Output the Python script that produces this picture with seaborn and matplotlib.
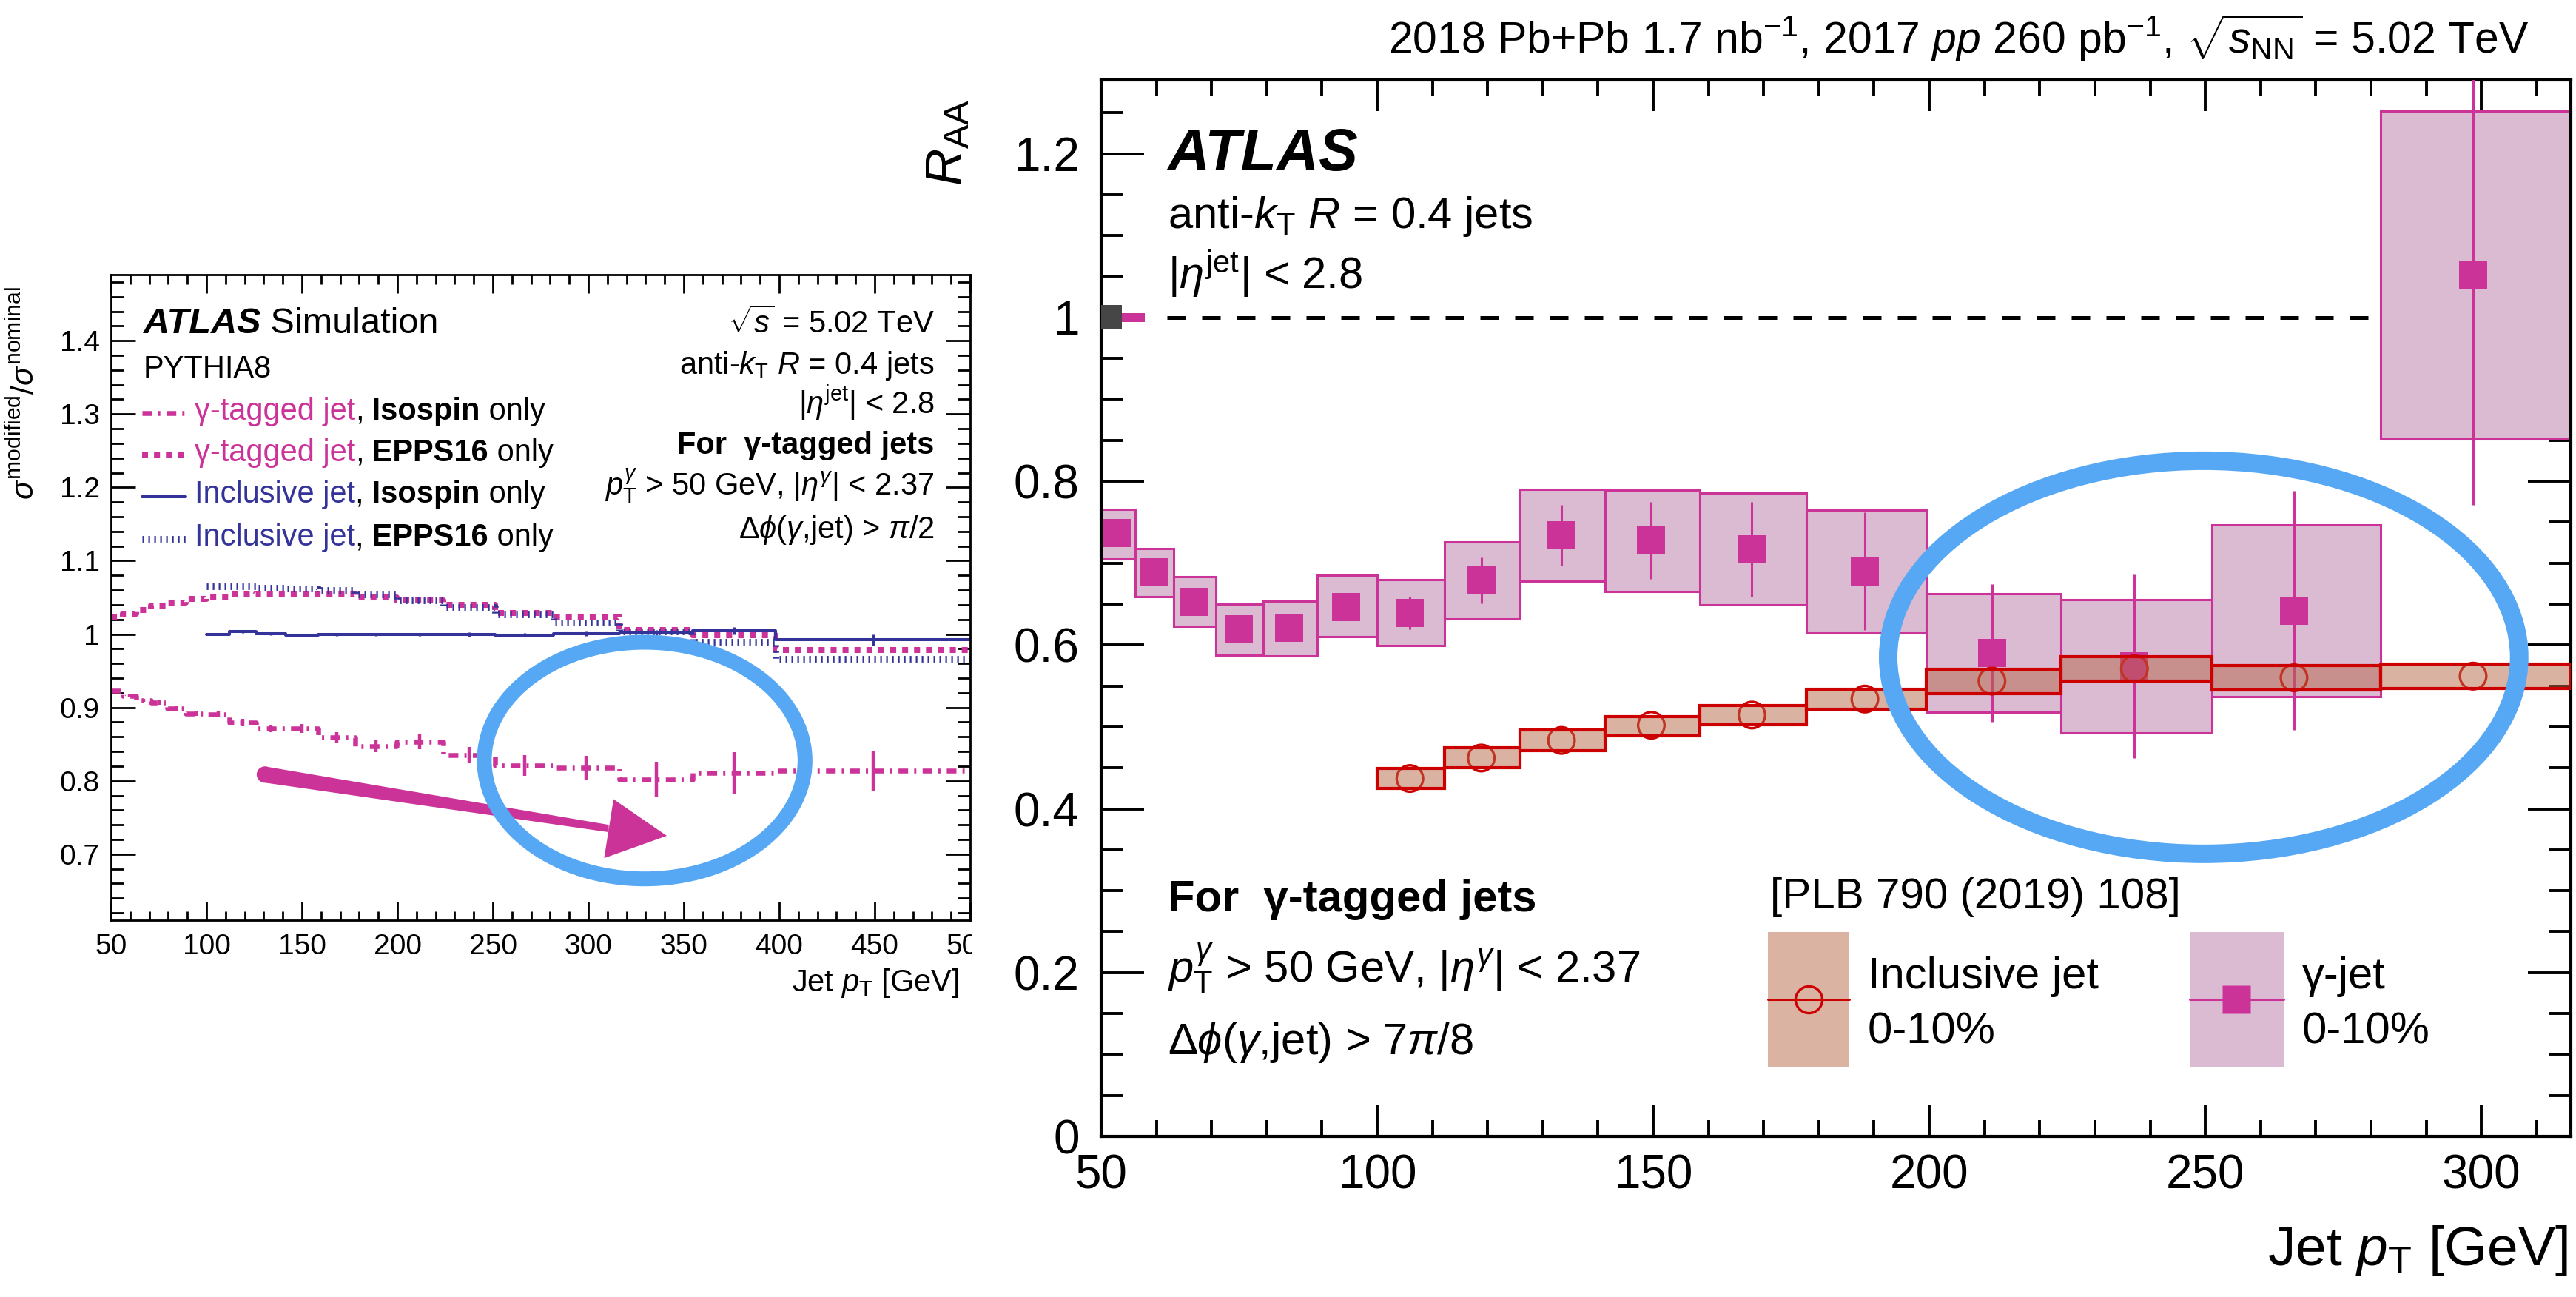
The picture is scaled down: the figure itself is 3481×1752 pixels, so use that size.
import numpy as np
import pandas as pd
import matplotlib
matplotlib.use("Agg")
import matplotlib.pyplot as plt
import seaborn as sns
from matplotlib.patches import Ellipse, Polygon, Rectangle
from matplotlib.ticker import MultipleLocator, FuncFormatter
from matplotlib.transforms import Bbox, TransformedBbox

# ---------------- left panel: PYTHIA8 modified / nominal cross-section ----------------
sim_edges = [50.0, 56.2, 63.1, 70.8, 79.4, 89.1, 100.0, 112.2, 125.9, 141.3,
             158.5, 177.8, 199.5, 223.9, 251.2, 281.8, 316.2, 354.8, 398.1, 500.0]
gam_isospin = [0.923, 0.916, 0.910, 0.907, 0.899, 0.892, 0.891, 0.879, 0.871, 0.871,
               0.859, 0.847, 0.853, 0.835, 0.821, 0.818, 0.802, 0.811, 0.814]
gam_isospin_err = [0.002, 0.002, 0.002, 0.003, 0.003, 0.003, 0.004, 0.005, 0.005, 0.006,
                   0.007, 0.008, 0.010, 0.011, 0.014, 0.016, 0.024, 0.028, 0.027]
gam_epps16 = [1.024, 1.028, 1.033, 1.039, 1.043, 1.048, 1.051, 1.054, 1.055, 1.055,
              1.055, 1.050, 1.046, 1.040, 1.029, 1.024, 1.006, 0.999, 0.978]

inc_sim_edges = [100.0, 112.2, 125.9, 141.3, 158.5, 177.8, 199.5, 223.9, 251.2,
                 281.8, 316.2, 354.8, 398.1, 500.0]
inc_isospin = [1.000, 1.004, 1.001, 0.999, 1.000, 1.000, 1.000, 1.000, 0.999,
               1.001, 1.002, 1.005, 0.992]
inc_isospin_err = [0.001, 0.002, 0.002, 0.002, 0.002, 0.002, 0.002, 0.003, 0.003,
                   0.003, 0.004, 0.005, 0.008]
inc_epps16 = [1.065, 1.065, 1.063, 1.062, 1.060, 1.054, 1.046, 1.037, 1.027,
              1.016, 1.004, 0.989, 0.966]

# ---------------- right panel: R_AA ----------------
raa_edges = [50.0, 56.2, 63.1, 70.8, 79.4, 89.1, 100.0, 112.2, 125.9, 141.3,
             158.5, 177.8, 199.5, 223.9, 251.2, 281.8, 316.2]
gam_raa = [0.737, 0.689, 0.653, 0.619, 0.621, 0.646, 0.639, 0.679, 0.734, 0.728,
           0.717, 0.690, 0.590, 0.574, 0.642, 1.051]
gam_stat = [0.010, 0.010, 0.010, 0.010, 0.010, 0.010, 0.020, 0.028, 0.037, 0.047,
            0.058, 0.072, 0.084, 0.112, 0.146, 0.280]
gam_sys_lo = [0.705, 0.659, 0.623, 0.588, 0.587, 0.610, 0.599, 0.632, 0.678, 0.665,
              0.649, 0.615, 0.518, 0.493, 0.537, 0.852]
gam_sys_hi = [0.766, 0.718, 0.683, 0.650, 0.654, 0.685, 0.680, 0.726, 0.790, 0.789,
              0.786, 0.765, 0.663, 0.655, 0.747, 1.252]

inc_edges = [100.0, 112.2, 125.9, 141.3, 158.5, 177.8, 199.5, 223.9, 251.2, 281.8, 316.2]
inc_raa = [0.437, 0.462, 0.4835, 0.502, 0.5145, 0.534, 0.556, 0.571, 0.560, 0.562]
inc_sys_lo = [0.425, 0.4505, 0.471, 0.489, 0.503, 0.522, 0.541, 0.556, 0.545, 0.547]
inc_sys_hi = [0.4495, 0.4745, 0.496, 0.513, 0.526, 0.546, 0.570, 0.586, 0.575, 0.577]

taa_unc = 0.015      # global normalisation uncertainty (grey box at 1)
lumi_unc = 0.0055    # global normalisation uncertainty (magenta box at 1)

# ---------------- style ----------------
MAG = "#cc3399"
BLUE = "#333399"
RED = "#cc0000"
SKY = "#56a8f5"

sns.set_theme(style="ticks")
plt.rcParams.update({
    "font.family": ["Liberation Sans", "DejaVu Sans"],
    "mathtext.fontset": "custom",
    "mathtext.rm": "Liberation Sans",
    "mathtext.it": "Liberation Sans:italic",
    "mathtext.bf": "Liberation Sans:bold",
    "mathtext.sf": "Liberation Sans",
    "axes.facecolor": "white",
    "figure.facecolor": "white",
    "text.color": "black",
    "axes.edgecolor": "black",
    "xtick.color": "black",
    "ytick.color": "black",
})

DPI = 200
fig = plt.figure(figsize=(3481 / DPI, 1752 / DPI), dpi=DPI)
axL = fig.add_axes([0.04309, 0.29053, 0.33353, 0.49772])
axR = fig.add_axes([0.42746, 0.12386, 0.57053, 0.81450])
renderer = fig.canvas.get_renderer()


def rich_text(ax, x, y, pieces, size):
    cur = x
    for s, kw in pieces:
        t = ax.text(cur, y, s, transform=ax.transAxes, ha="left", va="baseline",
                    fontsize=size, **kw)
        bb = t.get_window_extent(renderer=renderer)
        cur = ax.transAxes.inverted().transform((bb.x1, bb.y0))[0]


def step_hist(ax, edges, vals, color, lw, dashes=None):
    df = pd.DataFrame({"pt": list(edges), "v": list(vals) + [vals[-1]]})
    sns.lineplot(data=df, x="pt", y="v", ax=ax, color=color, lw=lw,
                 drawstyle="steps-post", estimator=None, sort=False, errorbar=None)
    line = ax.lines[-1]
    if dashes is not None:
        line.set_dashes(dashes)
        line.set_dash_capstyle("butt")
    return line


fmt = FuncFormatter(lambda v, p: f"{v:g}")

# =============== LEFT PANEL ===============
se = np.array(sim_edges)
sc = 0.5 * (se[:-1] + se[1:])
ie = np.array(inc_sim_edges)
ic = 0.5 * (ie[:-1] + ie[1:])

ISO_G = dict(color=MAG, lw=2.35, dashes=(2.0, 1.25, 0.45, 1.3))
EPPS_G = dict(color=MAG, lw=2.9, dashes=(1.0, 1.0))
ISO_I = dict(color=BLUE, lw=1.45, dashes=None)
EPPS_I = dict(color=BLUE, lw=3.2, dashes=(0.25, 0.65))

step_hist(axL, se, gam_epps16, **EPPS_G)
step_hist(axL, ie, inc_epps16, **EPPS_I)
step_hist(axL, ie, inc_isospin, **ISO_I)
axL.errorbar(ic, inc_isospin, yerr=inc_isospin_err, fmt="none", ecolor=BLUE,
             elinewidth=1.2, capsize=0)
step_hist(axL, se, gam_isospin, **ISO_G)
axL.errorbar(sc, gam_isospin, yerr=gam_isospin_err, fmt="none", ecolor=MAG,
             elinewidth=1.6, capsize=0)

axL.set_xlim(50, 500)
axL.set_ylim(0.61, 1.49)
axL.xaxis.set_major_locator(MultipleLocator(50))
axL.xaxis.set_minor_locator(MultipleLocator(10))
axL.yaxis.set_major_locator(MultipleLocator(0.1))
axL.yaxis.set_minor_locator(MultipleLocator(0.02))
axL.xaxis.set_major_formatter(fmt)
axL.yaxis.set_major_formatter(fmt)
axL.tick_params(which="both", direction="in", top=True, right=True, width=1.0, labelsize=14)
axL.tick_params(axis="y", which="major", length=12, pad=5.5)
axL.tick_params(axis="y", which="minor", length=6)
axL.tick_params(axis="x", which="major", length=9, pad=6.5)
axL.tick_params(axis="x", which="minor", length=4.5)
for s in axL.spines.values():
    s.set_linewidth(1.0)
axL.set_xlabel("")
axL.set_ylabel("")
# the simulation panel is cropped at its right frame: clip its tick labels there
clipbox = TransformedBbox(Bbox([[0.0, 0.0], [1313 / 3481, 1.0]]), fig.transFigure)
for lab in axL.get_xticklabels():
    lab.set_clip_box(clipbox)
    lab.set_clip_on(True)

axL.text(0.987, -0.110, r"Jet $p_{\mathrm{T}}$ [GeV]", transform=axL.transAxes,
         ha="right", va="baseline", fontsize=15)
axL.text(-0.100, 0.982, r"$\sigma^{\mathrm{modified}}/\sigma^{\mathrm{nominal}}$",
         transform=axL.transAxes, rotation=90, ha="center", va="top", fontsize=15.5)

rich_text(axL, 0.0376, 0.9094, [("ATLAS", dict(fontweight="bold", fontstyle="italic")),
                                 (" Simulation", {})], 17.5)
axL.text(0.0376, 0.8406, "PYTHIA8", transform=axL.transAxes, ha="left",
         va="baseline", fontsize=15)

leg_rows = [
    ("γ-tagged jet", MAG, "Isospin", ISO_G, 0.7756, 0.7852),
    ("γ-tagged jet", MAG, "EPPS16", EPPS_G, 0.7115, 0.7202),
    ("Inclusive jet", BLUE, "Isospin", ISO_I, 0.6468, 0.6560),
    ("Inclusive jet", BLUE, "EPPS16", EPPS_I, 0.5800, 0.5903),
]
for lab, col, mod, sty, yb, yl in leg_rows:
    ln, = axL.plot([0.0362, 0.087], [yl, yl], transform=axL.transAxes,
                   color=sty["color"], lw=sty["lw"])
    if sty["dashes"] is not None:
        ln.set_dashes(sty["dashes"])
        ln.set_dash_capstyle("butt")
    rich_text(axL, 0.097, yb, [(lab, dict(color=col)), (",", {}),
                                (" " + mod, dict(fontweight="bold")), (" only", {})], 15)

rcol_x = 0.9583
axL.text(rcol_x, 0.9094, r"$\sqrt{s}$ = 5.02 TeV", transform=axL.transAxes,
         ha="right", va="baseline", fontsize=15)
axL.text(rcol_x, 0.8463, r"anti-$k_{\mathrm{T}}$ $R$ = 0.4 jets", transform=axL.transAxes,
         ha="right", va="baseline", fontsize=15)
axL.text(rcol_x, 0.7852, r"$|\eta^{\mathrm{jet}}|$ < 2.8", transform=axL.transAxes,
         ha="right", va="baseline", fontsize=15)
axL.text(rcol_x, 0.7221, "For  γ-tagged jets", transform=axL.transAxes,
         ha="right", va="baseline", fontsize=15, fontweight="bold")
axL.text(rcol_x, 0.6590, r"$p_{\mathrm{T}}^{\gamma}$ > 50 GeV, $|\eta^{\gamma}|$ < 2.37",
         transform=axL.transAxes, ha="right", va="baseline", fontsize=15)
axL.text(rcol_x, 0.5920, r"$\Delta\phi$($\gamma$,jet) > $\pi$/2", transform=axL.transAxes,
         ha="right", va="baseline", fontsize=15)

# hand-drawn annotations (left)
axL.add_patch(Polygon([(130.6, 0.8196), (310.7, 0.7400), (310.7, 0.7300), (130.6, 0.7974)],
                      closed=True, color=MAG, zorder=6, lw=0))
axL.add_patch(Ellipse((130.6, 0.8085), width=8.6, height=0.0222, color=MAG, zorder=6, lw=0))
axL.add_patch(Polygon([(313.2, 0.775), (341.1, 0.725), (308.3, 0.6946)], closed=True,
                      color=MAG, zorder=6, lw=0))
axL.add_patch(Ellipse((329.5, 0.8276), width=168, height=0.3226, fill=False,
                      edgecolor=SKY, lw=7.2, zorder=7))

# =============== RIGHT PANEL ===============
re_ = np.array(raa_edges)
rc = np.sqrt(re_[:-1] * re_[1:])
ge_lo = np.array(gam_sys_lo)
ge_hi = np.array(gam_sys_hi)
ne = np.array(inc_edges)
nc = np.sqrt(ne[:-1] * ne[1:])
ni_lo = np.array(inc_sys_lo)
ni_hi = np.array(inc_sys_hi)

axR.plot([61.9, 316.2], [1, 1], color="black", lw=1.8, dashes=(5, 4.4), zorder=1)
axR.bar(re_[:-1], ge_hi - ge_lo, width=np.diff(re_), bottom=ge_lo, align="edge",
        color="#dbbbd2", edgecolor=MAG, linewidth=1.1, zorder=2)
axR.errorbar(rc, gam_raa, yerr=gam_stat, fmt="none", ecolor=MAG, elinewidth=1.1,
             capsize=0, zorder=3)
sns.scatterplot(x=rc, y=gam_raa, ax=axR, marker="s", s=187, color=MAG,
                edgecolor="none", linewidth=0, zorder=4)
sns.scatterplot(x=nc, y=inc_raa, ax=axR, marker="o", s=165, facecolor="none",
                edgecolor=RED, linewidth=1.2, zorder=4.5)
axR.bar(ne[:-1], ni_hi - ni_lo, width=np.diff(ne), bottom=ni_lo, align="edge",
        color=(183 / 255, 103 / 255, 71 / 255, 0.5), edgecolor=RED, linewidth=1.5, zorder=5)

# global normalisation boxes at unity
axR.add_patch(Rectangle((50, 1 - taa_unc), 3.8, 2 * taa_unc, color="#464646", lw=0, zorder=3))
axR.add_patch(Rectangle((53.8, 1 - lumi_unc), 4.1, 2 * lumi_unc, color=MAG, lw=0, zorder=3))

axR.set_xlim(50, 316.2)
axR.set_ylim(0, 1.29)
axR.xaxis.set_major_locator(MultipleLocator(50))
axR.xaxis.set_minor_locator(MultipleLocator(10))
axR.yaxis.set_major_locator(MultipleLocator(0.2))
axR.yaxis.set_minor_locator(MultipleLocator(0.05))
axR.xaxis.set_major_formatter(fmt)
axR.yaxis.set_major_formatter(fmt)
axR.tick_params(which="both", direction="in", top=True, right=True, width=1.4, labelsize=23)
axR.tick_params(axis="y", which="major", length=21, pad=10.5)
axR.tick_params(axis="y", which="minor", length=10.5)
axR.tick_params(axis="x", which="major", length=15, pad=8.5)
axR.tick_params(axis="x", which="minor", length=7.8)
for s in axR.spines.values():
    s.set_linewidth(1.5)
axR.set_xlabel("")
axR.set_ylabel("")
axR.text(0.998, -0.122, r"Jet $p_{\mathrm{T}}$ [GeV]", transform=axR.transAxes,
         ha="right", va="baseline", fontsize=27)
axR.text(-0.1042, 0.982, r"$R_{\mathrm{AA}}$", transform=axR.transAxes, rotation=90,
         ha="center", va="top", fontsize=25)

axR.text(0.0453, 0.9145, "ATLAS", transform=axR.transAxes, ha="left", va="baseline",
         fontsize=28.5, fontweight="bold", fontstyle="italic")
axR.text(0.0453, 0.8598, r"anti-$k_{\mathrm{T}}$ $R$ = 0.4 jets", transform=axR.transAxes,
         ha="left", va="baseline", fontsize=21.5)
axR.text(0.0453, 0.8024, r"$|\eta^{\mathrm{jet}}|$ < 2.8", transform=axR.transAxes,
         ha="left", va="baseline", fontsize=21.5)
axR.text(0.0453, 0.2130, "For  γ-tagged jets", transform=axR.transAxes, ha="left",
         va="baseline", fontsize=21.5, fontweight="bold")
axR.text(0.0453, 0.1460, r"$p_{\mathrm{T}}^{\gamma}$ > 50 GeV, $|\eta^{\gamma}|$ < 2.37",
         transform=axR.transAxes, ha="left", va="baseline", fontsize=21.5)
axR.text(0.0453, 0.0778, r"$\Delta\phi$($\gamma$,jet) > 7$\pi$/8", transform=axR.transAxes,
         ha="left", va="baseline", fontsize=21.5)
axR.text(0.4552, 0.2158, "[PLB 790 (2019) 108]", transform=axR.transAxes, ha="left",
         va="baseline", fontsize=21)

# legend (right)
axR.add_patch(Rectangle((0.4537, 0.0659), 0.0554, 0.1275, transform=axR.transAxes,
                        color="#dbb3a3", lw=0, zorder=2))
axR.plot([0.4537, 0.5091], [0.1296, 0.1296], transform=axR.transAxes, color=RED, lw=1.1, zorder=3)
axR.plot([0.4814], [0.1296], transform=axR.transAxes, marker="o", ms=13, mfc="none",
         mec=RED, mew=1.2, zorder=4)
axR.text(0.5217, 0.1402, "Inclusive jet", transform=axR.transAxes, ha="left",
         va="baseline", fontsize=21.5)
axR.text(0.5217, 0.0876, "0-10%", transform=axR.transAxes, ha="left", va="baseline",
         fontsize=21.5)
axR.add_patch(Rectangle((0.7407, 0.0659), 0.0639, 0.1275, transform=axR.transAxes,
                        color="#dbbbd2", lw=0, zorder=2))
axR.plot([0.7407, 0.8046], [0.1296, 0.1296], transform=axR.transAxes, color=MAG, lw=1.1, zorder=3)
axR.plot([0.7724], [0.1296], transform=axR.transAxes, marker="s", ms=13.7, color=MAG,
         mec="none", zorder=4)
axR.text(0.8172, 0.1402, "γ-jet", transform=axR.transAxes, ha="left", va="baseline",
         fontsize=21.5)
axR.text(0.8172, 0.0876, "0-10%", transform=axR.transAxes, ha="left", va="baseline",
         fontsize=21.5)

# hand-drawn annotation (right)
axR.add_patch(Ellipse((249.7, 0.585), width=114.3, height=0.48, fill=False,
                      edgecolor=SKY, lw=9, zorder=8))

fig.text(0.9816, 0.9589,
         r"2018 Pb+Pb 1.7 nb$^{-1}$, 2017 $pp$ 260 pb$^{-1}$, $\sqrt{s_{\mathrm{NN}}}$ = 5.02 TeV",
         ha="right", va="baseline", fontsize=21.2)

fig.savefig("out.png", dpi=DPI)
